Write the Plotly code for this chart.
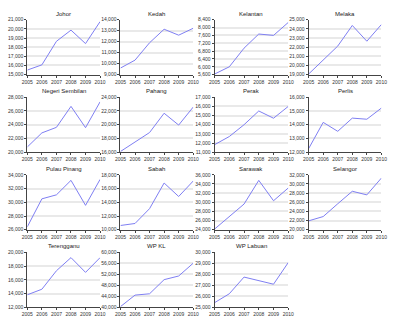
import plotly.graph_objects as go

# Years on the x axis
years = [2005, 2006, 2007, 2008, 2009, 2010]

# State names, in panel order (row by row)
states = ["Johor", "Kedah", "Kelantan", "Melaka",
          "Negeri Sembilan", "Pahang", "Perak", "Perlis",
          "Pulau Pinang", "Sabah", "Sarawak", "Selangor",
          "Terengganu", "WP KL", "WP Labuan"]

# Values per state, 2005-2010
johor = [15500, 16070, 18640, 19860, 18390, 20790]
kedah = [9600, 10320, 11900, 13130, 12590, 13220]
kelantan = [5630, 6000, 6950, 7670, 7600, 8260]
melaka = [19070, 20540, 22120, 24370, 22650, 24470]
negeri_sembilan = [20760, 22810, 23620, 26670, 23570, 27330]
pahang = [16100, 17480, 18860, 21670, 19950, 22570]
perak = [11820, 12710, 14000, 15500, 14710, 16000]
perlis = [12260, 14170, 13520, 14480, 14400, 15210]
pulau_pinang = [26430, 30500, 31080, 33190, 29550, 33330]
sabah = [10620, 10910, 13070, 16800, 14840, 17090]
sarawak = [24140, 26950, 29610, 34780, 30330, 33120]
selangor = [21940, 22880, 25670, 28400, 27610, 31280]
terengganu = [13820, 14630, 17320, 19230, 17080, 19230]
wp_kl = [40240, 44430, 44910, 50060, 51380, 56050]
wp_labuan = [25420, 26230, 27750, 27420, 27100, 29070]

series = [johor, kedah, kelantan, melaka,
          negeri_sembilan, pahang, perak, perlis,
          pulau_pinang, sabah, sarawak, selangor,
          terengganu, wp_kl, wp_labuan]

# Y-axis tick ranges per panel
y_min = [15000, 9000, 5600, 19000, 20000, 16000, 11000, 12000,
         26000, 10000, 24000, 20000, 12000, 40000, 25000]
y_max = [21000, 14000, 8400, 25000, 28000, 24000, 17000, 16000,
         34000, 18000, 36000, 32000, 20000, 60000, 30000]
y_step = [1000, 1000, 400, 1000, 2000, 2000, 1000, 1000,
          2000, 2000, 2000, 2000, 2000, 4000, 1000]

W, H = 400, 326
col_left = [22, 118, 215, 312]
col_right = [97, 193, 291, 387]
row_top = [17, 96, 175, 254]
row_bottom = [73, 152, 231, 310]

FONT = "Liberation Sans, Arial, sans-serif"
LINE_COLOR = "#7f7ff2"
AXIS_COLOR = "#444444"

fig = go.Figure()
annotations = []
layout_axes = {}

for i, name in enumerate(states):
    r, c = divmod(i, 4)
    n = i + 1
    xa = "x" if n == 1 else f"x{n}"
    ya = "y" if n == 1 else f"y{n}"
    fig.add_trace(go.Scatter(
        x=years, y=series[i], mode="lines",
        line=dict(color=LINE_COLOR, width=1),
        xaxis=xa, yaxis=ya, hoverinfo="x+y", showlegend=False,
    ))
    xdom = [col_left[c] / W, col_right[c] / W]
    ydom = [1 - row_bottom[r] / H, 1 - row_top[r] / H]
    xkey = "xaxis" if n == 1 else f"xaxis{n}"
    ykey = "yaxis" if n == 1 else f"yaxis{n}"
    layout_axes[xkey] = dict(
        domain=xdom, anchor=ya, range=[2005, 2010],
        tickvals=years, ticktext=[str(v) for v in years],
        showgrid=False, zeroline=False,
        showline=True, linecolor=AXIS_COLOR, linewidth=1,
        ticks="outside", ticklen=2, tickcolor=AXIS_COLOR,
        tickfont=dict(family=FONT, size=5, color="#333333"),
        fixedrange=True,
    )
    layout_axes[ykey] = dict(
        domain=ydom, anchor=xa, range=[y_min[i], y_max[i]],
        tick0=y_min[i], dtick=y_step[i], tickformat=",d",
        showgrid=True, gridcolor="#e9e9e9", gridwidth=1.5,
        zeroline=False,
        showline=True, linecolor=AXIS_COLOR, linewidth=1,
        ticks="outside", ticklen=2, tickcolor=AXIS_COLOR,
        tickfont=dict(family=FONT, size=5, color="#333333"),
        fixedrange=True,
    )
    annotations.append(dict(
        text=name, xref="paper", yref="paper",
        x=(xdom[0] + xdom[1]) / 2, y=1 - (row_top[r] - 6) / H,
        xanchor="center", yanchor="middle", showarrow=False,
        font=dict(family=FONT, size=6, color="#222222"),
    ))

fig.update_layout(
    width=W, height=H,
    margin=dict(l=0, r=0, t=0, b=0),
    paper_bgcolor="white", plot_bgcolor="white",
    showlegend=False, annotations=annotations,
    **layout_axes,
)

fig.write_html("out.html", config={"displayModeBar": False})
